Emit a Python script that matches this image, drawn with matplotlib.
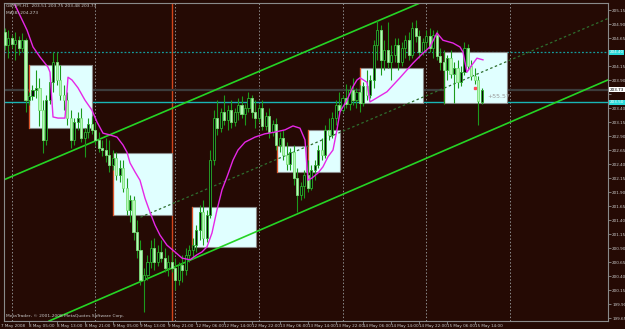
import matplotlib
matplotlib.use("Agg")
import matplotlib.pyplot as plt
from matplotlib.patches import Rectangle

# GBPJPY H1 candles, bar index 1..138 (bar 0 = 7 May 21:00)
opens = [204.76, 204.53, 204.65, 204.54, 204.61, 204.47, 204.61, 203.54, 203.61, 203.72,
         203.76, 203.36, 202.83, 203.54, 203.86, 204.22, 203.90, 203.63, 203.54, 203.22,
         202.83, 203.15, 203.22, 202.86, 202.97, 203.11, 203.01, 202.83, 202.69, 202.65,
         202.56, 202.38, 202.51, 202.20, 202.33, 201.97, 201.58, 201.76, 201.19, 200.86,
         200.33, 200.42, 200.65, 200.90, 200.65, 200.83, 200.72, 200.54, 200.65, 200.54,
         200.33, 200.60, 200.51, 200.78, 200.86, 200.95, 201.22, 201.54, 201.08, 201.49,
         202.47, 203.22, 203.04, 203.33, 203.19, 203.36, 203.15, 203.33, 203.45, 203.29,
         203.40, 203.58, 203.33, 203.22, 203.40, 203.08, 203.26, 202.97, 203.11, 202.74,
         202.86, 202.56, 202.40, 202.61, 202.15, 201.85, 202.01, 202.20, 201.97, 202.29,
         202.38, 202.65, 202.56, 203.01, 202.92, 203.22, 203.45, 203.36, 203.58, 203.47,
         203.72, 203.54, 203.69, 203.49, 203.79, 203.63, 203.90, 204.53, 204.79, 204.26,
         204.44, 204.22, 204.35, 204.53, 204.22, 204.47, 204.61, 204.35, 204.83, 204.69,
         204.40, 204.58, 204.69, 204.47, 204.70, 204.33, 204.22, 204.08, 204.29, 204.01,
         204.11, 203.86, 204.04, 204.47, 204.15, 203.97, 203.90, 203.51]
highs = [204.83, 204.79, 204.70, 204.76, 204.69, 204.74, 204.65, 203.69, 203.81, 204.08,
         203.94, 203.54, 203.63, 203.94, 204.40, 204.40, 204.17, 203.81, 203.69, 203.36,
         203.22, 203.33, 203.40, 203.04, 203.22, 203.26, 203.15, 202.97, 202.83, 202.86,
         202.83, 202.65, 202.61, 202.47, 202.47, 202.15, 201.85, 201.83, 201.40, 201.04,
         200.54, 200.78, 201.04, 201.08, 200.95, 201.04, 200.90, 200.78, 200.83, 200.72,
         200.65, 200.78, 200.90, 200.95, 201.08, 201.31, 201.67, 201.76, 201.58, 202.65,
         203.36, 203.54, 203.40, 203.63, 203.45, 203.54, 203.40, 203.58, 203.61, 203.47,
         203.69, 203.63, 203.54, 203.47, 203.54, 203.33, 203.40, 203.19, 203.22, 202.97,
         203.01, 202.79, 202.69, 202.74, 202.33, 202.08, 202.29, 202.47, 202.38, 202.47,
         202.74, 202.86, 203.10, 203.22, 203.33, 203.54, 203.69, 203.63, 203.83, 203.81,
         203.94, 203.76, 203.81, 203.86, 204.08, 203.99, 204.61, 204.97, 204.88, 204.61,
         204.94, 204.53, 204.65, 204.65, 204.58, 204.70, 204.76, 204.94, 204.97, 204.79,
         204.65, 204.79, 204.83, 204.79, 204.79, 204.47, 204.44, 204.35, 204.44, 204.22,
         204.26, 204.15, 204.58, 204.54, 204.26, 204.11, 203.97, 203.75]
lows = [204.44, 204.29, 204.47, 204.26, 204.35, 204.40, 203.33, 203.45, 203.54, 203.58,
        203.08, 202.60, 202.74, 203.47, 203.69, 203.81, 203.54, 203.36, 203.10, 202.69,
        202.74, 203.01, 202.79, 202.53, 202.86, 202.94, 202.74, 202.61, 202.54, 202.44,
        202.26, 202.29, 202.11, 202.08, 201.90, 201.49, 201.37, 201.04, 200.72, 200.24,
        199.76, 200.33, 200.54, 200.51, 200.58, 200.65, 200.47, 200.40, 200.47, 200.15,
        200.24, 200.29, 200.42, 200.65, 200.72, 200.83, 201.04, 200.95, 201.01, 201.44,
        202.38, 202.92, 202.97, 203.10, 203.01, 203.04, 203.08, 203.19, 203.22, 203.10,
        203.33, 203.22, 203.04, 203.15, 203.01, 203.01, 202.86, 202.90, 202.65, 202.61,
        202.47, 202.29, 202.29, 202.03, 201.54, 201.76, 201.79, 201.90, 201.94, 202.11,
        202.33, 202.47, 202.51, 202.83, 202.86, 203.10, 203.28, 203.33, 203.40, 203.36,
        203.45, 203.40, 203.33, 203.44, 203.54, 203.58, 203.76, 204.26, 203.99, 204.08,
        204.11, 203.90, 204.22, 204.08, 204.15, 204.29, 204.26, 204.29, 204.58, 204.29,
        204.35, 204.44, 204.40, 204.29, 204.26, 204.08, 203.47, 203.90, 203.94, 203.49,
        203.76, 203.79, 203.99, 204.08, 203.90, 203.83, 203.10, 203.48]
closes = [204.53, 204.65, 204.54, 204.61, 204.47, 204.61, 203.54, 203.61, 203.72, 203.76,
          203.36, 202.83, 203.54, 203.86, 204.22, 203.90, 203.63, 203.54, 203.22, 202.83,
          203.15, 203.22, 202.86, 202.97, 203.11, 203.01, 202.83, 202.69, 202.65, 202.56,
          202.38, 202.51, 202.20, 202.33, 201.97, 201.58, 201.76, 201.19, 200.86, 200.33,
          200.42, 200.65, 200.90, 200.65, 200.83, 200.72, 200.54, 200.65, 200.54, 200.33,
          200.60, 200.51, 200.78, 200.86, 200.95, 201.22, 201.54, 201.08, 201.49, 202.47,
          203.22, 203.04, 203.33, 203.19, 203.36, 203.15, 203.33, 203.45, 203.29, 203.40,
          203.58, 203.33, 203.22, 203.40, 203.08, 203.26, 202.97, 203.11, 202.74, 202.86,
          202.56, 202.40, 202.61, 202.15, 201.85, 202.01, 202.20, 201.97, 202.29, 202.38,
          202.65, 202.56, 203.01, 202.92, 203.22, 203.45, 203.36, 203.58, 203.47, 203.72,
          203.54, 203.69, 203.49, 203.79, 203.63, 203.90, 204.53, 204.79, 204.26, 204.44,
          204.22, 204.35, 204.53, 204.22, 204.47, 204.61, 204.35, 204.83, 204.69, 204.40,
          204.58, 204.69, 204.47, 204.70, 204.33, 204.22, 204.08, 204.29, 204.01, 204.11,
          203.86, 204.04, 204.47, 204.15, 203.97, 203.90, 203.53, 203.73]

# moving average (bar index, price)
ma_x = [3.98, 7.43, 9.15, 11.16, 13.45, 14.03, 14.89, 16.32, 18.33, 19.19, 20.34, 22.06,
        24.07, 26.08, 27.52, 29.24, 31.25, 33.26, 34.98, 36.13, 36.99, 38.42, 39.86, 41.29,
        42.73, 44.16, 45.60, 47.61, 49.90, 51.91, 54.21, 56.22, 57.65, 59.09, 60.53, 61.96,
        63.40, 64.83, 66.55, 67.99, 69.99, 72.86, 75.73, 78.61, 81.48, 83.77, 85.78, 87.22,
        88.08, 89.23, 90.95, 92.38, 93.82, 95.26, 96.40, 97.26, 99.27, 100.99, 102.14, 103.00,
        105.01, 105.88, 106.73, 110.75, 114.48, 118.21, 121.09, 123.09, 125.10, 126.83,
        129.70, 131.71, 132.57, 133.72, 135.16, 136.59, 138.31]
ma_y = [205.24, 204.79, 204.49, 204.31, 204.13, 204.04, 203.24, 203.22, 203.22, 203.95,
        203.90, 203.76, 203.54, 203.36, 203.15, 202.95, 202.92, 202.88, 202.74, 202.61,
        202.42, 202.26, 202.11, 201.79, 201.54, 201.31, 201.13, 200.95, 200.83, 200.72,
        200.69, 200.78, 200.83, 200.92, 201.17, 201.58, 201.94, 202.17, 202.47, 202.65,
        202.79, 202.88, 202.94, 202.97, 203.01, 203.08, 203.04, 202.83, 202.11, 202.15,
        202.24, 202.35, 202.53, 202.65, 203.01, 203.33, 203.54, 203.78, 203.90, 203.94,
        203.86, 203.51, 203.54, 203.69, 203.94, 204.20, 204.38, 204.49, 204.74, 204.61,
        204.56, 204.49, 204.40, 204.04, 204.17, 204.29, 204.26]

# rectangles: start bar, end bar, low, high
box_x0 = [8.0, 32.1, 54.8, 79.2, 88.1, 103.0, 127.1]
box_x1 = [26.1, 49.1, 73.2, 87.5, 97.3, 121.1, 145.2]
box_lo = [203.04, 201.49, 200.92, 202.26, 202.26, 203.49, 203.49]
box_hi = [204.17, 202.60, 201.63, 202.72, 203.01, 204.11, 204.40]

# channel: two anchor points (bar, price) per line
upper_line = [(62.8, 203.757), (108.7, 204.97)]
lower_line = [(13.74, 199.596), (166.15, 203.686)]
mid_x = [40.0, 175.0]
mid_y = [201.45, 205.02]

hline_solid = 203.50
hline_dotted = 204.40
bid = 203.73
grid_bars = [3, 27, 50, 74, 98, 122, 146]
session_bar = 49

xlabel_idx = list(range(0, 137, 8))
xlabels = ["7 May 2008", "8 May 05:00", "8 May 13:00", "8 May 21:00", "9 May 05:00",
           "9 May 13:00", "9 May 21:00", "12 May 06:00", "12 May 14:00", "12 May 22:00",
           "13 May 06:00", "13 May 14:00", "13 May 22:00", "14 May 06:00", "14 May 14:00",
           "14 May 22:00", "15 May 06:00", "15 May 14:00"]
yticks = [205.15 - 0.25 * k for k in range(23)]

bg = '#250a04'
fig = plt.figure(figsize=(6.25, 3.29), dpi=100, facecolor=bg)
ax = fig.add_axes([4 / 625, 8 / 329, 604 / 625, 318 / 329], facecolor=bg)
ax.set_xlim(0.82, 174.2)
ax.set_ylim(199.597, 205.275)

for x0, x1, lo, hi in zip(box_x0, box_x1, box_lo, box_hi):
    ax.add_patch(Rectangle((x0, lo), x1 - x0, hi - lo, facecolor='#e0ffff',
                           edgecolor='#8a8a8a', lw=0.8, zorder=1))
    ax.plot([x0, x0], [lo, hi], color='#e0562a', lw=0.9, zorder=1.5)

for g in grid_bars:
    ax.axvline(g, color='#8c8c8c', lw=0.7, ls=(0, (1.5, 2)), zorder=0.5)
ax.axvline(session_bar, color='#d2441a', lw=1.0, zorder=0.6)

ax.axhline(hline_solid, color='#19b5b5', lw=1.0, zorder=0.7)
ax.axhline(hline_dotted, color='#159c9c', lw=0.9, ls=(0, (1.5, 1.5)), zorder=0.7)
ax.axhline(bid, color='#3c3c3c', lw=1.6, zorder=0.7)

ax.axline(upper_line[0], upper_line[1], color='#25d425', lw=1.2, zorder=2)
ax.axline(lower_line[0], lower_line[1], color='#25d425', lw=1.2, zorder=2)
ax.plot(mid_x, mid_y, color='#2e6e2e', lw=0.9, ls=(0, (2, 2)), zorder=2)

idx = list(range(1, len(closes) + 1))
ax.vlines(idx, lows, highs, color='#1c9a1c', lw=0.8, zorder=3)
for i, o, c in zip(idx, opens, closes):
    if c >= o:
        ax.bar(i, c - o, bottom=o, width=0.6, color='#0a0a0a', edgecolor='#2bb02b',
               lw=0.6, zorder=4)
    else:
        ax.bar(i, o - c, bottom=c, width=0.6, color='#b9f7b9', edgecolor='#79e079',
               lw=0.6, zorder=4)

ax.plot(ma_x, ma_y, color='#e627e6', lw=1.0, zorder=5)
ax.plot([136.0], [203.76], marker='s', ms=2, color='#ff4a5a', zorder=6)
ax.text(139.6, 203.61, "+55.57", color='#9a9a9a', fontsize=4.5, va='center', zorder=6)

for s in ax.spines.values():
    s.set_color('#8a8a8a')
    s.set_linewidth(0.8)

# tick labels hidden where a price label box sits on top
hidden = [hline_dotted, 203.65]
ax.yaxis.tick_right()
ax.set_yticks(yticks)
ax.set_yticklabels(["" if any(abs(v - h) < 0.01 for h in hidden) else f"{v:.2f}"
                    for v in yticks])
ax.tick_params(axis='y', colors='#8a8a8a', labelcolor='#c8c8c8', labelsize=3,
               length=2, width=0.6, pad=1)

ax.set_xticks([i for i in xlabel_idx if i >= 1])
ax.set_xticklabels([])
ax.tick_params(axis='x', colors='#8a8a8a', length=2, width=0.6)
for i, lab in zip(xlabel_idx, xlabels):
    ax.text(i, -0.01, lab, transform=ax.get_xaxis_transform(), ha='left', va='top',
            fontsize=3, color='#c8c8c8', clip_on=False)

ytr = ax.get_yaxis_transform()
for val, fc, tc in [(hline_dotted, '#2ad8d8', '#ffffff'), (bid, '#ffffff', '#000000'),
                    (hline_solid, '#2ad8d8', '#ffffff')]:
    ax.text(1.003, val, f"{val:.2f}", transform=ytr, ha='left', va='center',
            fontsize=3, color=tc, clip_on=False,
            bbox=dict(boxstyle='square,pad=0.12', fc=fc, ec='none'))

fig.text(6 / 625, 1 - 6 / 329, "GBPJPY,H1  203.51 203.75 203.48 203.73", fontsize=3.2,
         color='#c8c8c8', va='center')
fig.text(6 / 625, 1 - 13 / 329, "MA(8) 204.273", fontsize=3.2, color='#c8c8c8', va='center')
fig.text(6 / 625, 13 / 329, "MetaTrader, \u00a9 2001-2008 MetaQuotes Software Corp.",
         fontsize=3.2, color='#c8c8c8', va='center')

fig.savefig("out.png", dpi=100, facecolor=bg)
